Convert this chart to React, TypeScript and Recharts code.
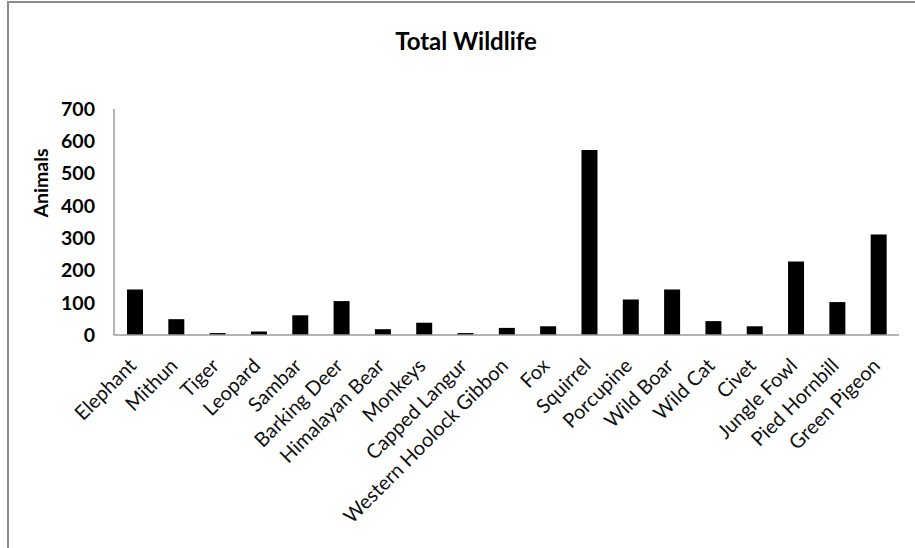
import { BarChart, Bar, XAxis, YAxis } from 'recharts';

const species = [
  'Elephant', 'Mithun', 'Tiger', 'Leopard', 'Sambar', 'Barking Deer', 'Himalayan Bear',
  'Monkeys', 'Capped Langur', 'Western Hoolock Gibbon', 'Fox', 'Squirrel', 'Porcupine',
  'Wild Boar', 'Wild Cat', 'Civet', 'Jungle Fowl', 'Pied Hornbill', 'Green Pigeon',
];
const counts = [141, 49, 6, 11, 61, 105, 18, 38, 6, 22, 27, 573, 110, 141, 43, 27, 228, 102, 311];
const yTicks = [0, 100, 200, 300, 400, 500, 600, 700];

const data = species.map((name, i) => ({ name, animals: counts[i] }));

const FONT = 'Lato, "Open Sans", sans-serif';
const AXIS_GREY = '#9a9a9a';

function SpeciesTick({ x, y, payload }: any) {
  return (
    <g transform={`translate(${x + 3},${y + 24})`}>
      <text
        x={0}
        y={0}
        textAnchor="end"
        transform="rotate(-45)"
        fill="#111"
        fontSize={20}
        fontFamily={FONT}
      >
        {payload.value}
      </text>
    </g>
  );
}

function AxisTitle({ viewBox }: any) {
  const cx = viewBox.x + 40;
  const cy = viewBox.y + 74;
  return (
    <text
      x={cx}
      y={cy}
      transform={`rotate(-90, ${cx}, ${cy})`}
      textAnchor="middle"
      dominantBaseline="central"
      fontSize={19.5}
      fontWeight="bold"
      fontFamily={FONT}
      fill="#000"
    >
      Animals
    </text>
  );
}

export default function App() {
  return (
    <div style={{ position: 'absolute', left: 0, top: 0, width: 915, height: 548, background: '#fff' }}>
      <div
        style={{
          position: 'absolute',
          left: 7,
          top: 1,
          width: 906,
          height: 545,
          borderTop: '2px solid #8c8c8c',
          borderLeft: '2px solid #8c8c8c',
        }}
      />
      <div
        style={{
          position: 'absolute',
          left: 8,
          top: 26,
          width: 916,
          textAlign: 'center',
          fontFamily: FONT,
          fontWeight: 'bold',
          fontSize: 24,
          color: '#000',
        }}
      >
        Total Wildlife
      </div>
      <div style={{ position: 'absolute', left: 0, top: 0 }}>
        <BarChart width={915} height={548} data={data} margin={{ top: 109, right: 16, bottom: 0, left: 0 }}>
          <XAxis
            dataKey="name"
            interval={0}
            height={213}
            tickLine={false}
            axisLine={{ stroke: AXIS_GREY, strokeWidth: 1.5 }}
            tick={<SpeciesTick />}
          />
          <YAxis
            width={114}
            domain={[0, 700]}
            ticks={yTicks}
            interval={0}
            tickLine={false}
            tickSize={6}
            tickMargin={13}
            axisLine={{ stroke: AXIS_GREY, strokeWidth: 1.5 }}
            tick={{ fill: '#000', fontSize: 19.5, fontWeight: 'bold', fontFamily: FONT }}
            label={<AxisTitle />}
          />
          <Bar dataKey="animals" fill="#000" barSize={16} isAnimationActive={false} />
        </BarChart>
      </div>
    </div>
  );
}
